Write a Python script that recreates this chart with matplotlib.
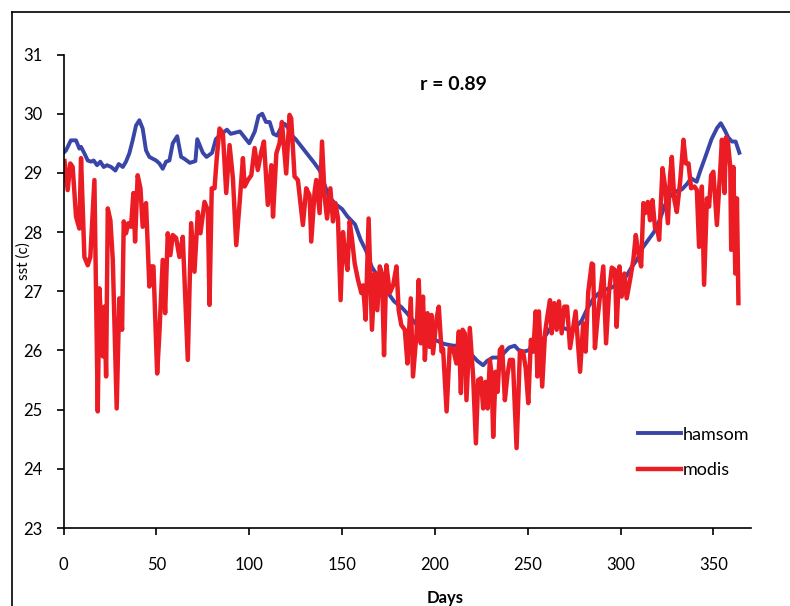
import matplotlib.pyplot as plt
from matplotlib.lines import Line2D

# ============================
# DATOS
# ============================

hamsom_day = [0, 1.3, 3.9, 6.7, 8.5, 9.4, 11.2, 13.0, 14.8, 16.2, 18.0, 19.8, 21.6, 23.4, 25.6, 27.9, 29.7, 31.9, 33.6, 35.4,
              37.2, 39.0, 40.8, 42.6, 44.4, 46.2, 48.0, 49.8, 51.6, 53.4, 55.2, 57.0, 58.8, 61.2, 63.3, 65, 68, 71, 72, 75,
              77, 80, 82, 85, 88, 90, 95, 100, 103, 105, 107, 109, 111, 113, 115, 117, 119, 121, 123, 125,
              130, 135, 138, 140, 143, 147, 150, 153, 157, 160, 163, 166, 170, 173, 175, 178, 182, 185, 190, 195,
              200, 205, 210, 215, 218, 220, 223, 226, 228, 231, 234, 237, 240, 243, 245, 248, 251, 253, 256, 258,
              260, 262, 265, 268, 270, 273, 276, 279, 282, 285, 288, 291, 295, 300, 303, 306, 309, 312, 315, 318,
              321, 324, 327, 330, 333, 336, 338, 341, 343, 346, 349, 352, 354, 356, 358, 360, 362, 364]
hamsom_sst = [29.34, 29.38, 29.55, 29.55, 29.41, 29.44, 29.33, 29.21, 29.19, 29.21, 29.13, 29.19, 29.10, 29.13, 29.10, 29.04, 29.15, 29.10, 29.19, 29.33,
              29.55, 29.80, 29.89, 29.75, 29.38, 29.27, 29.24, 29.21, 29.16, 29.07, 29.19, 29.21, 29.50, 29.62, 29.27, 29.24, 29.17, 29.20, 29.57, 29.34,
              29.27, 29.34, 29.57, 29.66, 29.73, 29.66, 29.70, 29.50, 29.70, 29.96, 30.00, 29.86, 29.86, 29.66, 29.63, 29.76, 29.83, 29.76, 29.63, 29.57,
              29.37, 29.17, 29.04, 28.85, 28.59, 28.46, 28.39, 28.26, 28.13, 27.87, 27.68, 27.41, 27.22, 27.02, 26.96, 26.83, 26.73, 26.63, 26.44, 26.27,
              26.18, 26.11, 26.08, 26.08, 26.01, 25.92, 25.82, 25.75, 25.82, 25.88, 25.88, 25.95, 26.05, 26.08, 26.01, 25.98, 26.01, 26.18, 26.18, 26.18,
              26.27, 26.37, 26.44, 26.40, 26.37, 26.34, 26.40, 26.50, 26.70, 26.86, 26.96, 27.02, 27.06, 27.15, 27.25, 27.41, 27.54, 27.74, 27.87, 28.00,
              28.20, 28.46, 28.62, 28.69, 28.72, 28.82, 28.91, 28.85, 29.04, 29.30, 29.57, 29.76, 29.84, 29.73, 29.60, 29.53, 29.53, 29.34]

modis_day = [0.5, 2.2, 3.6, 4.9, 6.7, 8.5, 9.4, 11.2, 13.0, 14.4, 16.6, 18.4, 19.3, 21.1, 22.0, 22.9, 23.8, 25.2, 26.5, 28.6,
             30.0, 31.5, 32.4, 33.6, 34.9, 36.3, 37.6, 38.5, 39.9, 41.4, 42.6, 44.4, 46.2, 47.1, 48.4, 50.4, 51.6, 53.4, 54.7, 56.1,
             57.5, 58.8, 60.6, 62.4, 64.2, 66.9, 68.7, 70.5, 72.3, 73.7, 75.9, 77.7, 78.6, 79.8, 81.3, 82.5, 84.0, 85.8, 87.6, 89.4,
             91.2, 93.0, 94.8, 96.6, 97.5, 99.3, 101.1, 102.9, 104.6, 106.5, 107.9, 110.0, 111.9, 112.8, 114.6, 116.3, 117.6, 119.9, 121.7, 122.6,
             124.4, 126.2, 128.9, 130.7, 132.5, 133.4, 135.2, 136.1, 137.9, 139.2, 140.6, 141.9, 143.7, 145.1, 146.4, 147.8, 149.2, 150.5, 151.8, 152.9,
             154.1, 155.4, 156.8, 158.6, 160.4, 161.3, 162.7, 164.3, 166.1, 167.6, 169.0, 170.3, 171.5, 172.6, 173.9, 175.7, 177.5, 179.3, 180.5, 181.9,
             183.8, 185.2, 187.0, 188.2, 190.1, 191.3, 192.4, 193.6, 194.6, 196.0, 197.2, 198.2, 199.0, 200.9, 202.1, 203.6, 204.4, 206.3, 208.0, 209.8,
             211.6, 212.9, 214.0, 214.9, 216.1, 217.0, 218.8, 220.6, 222.1, 223.3, 224.8, 226.0, 227.3, 228.4, 229.6, 230.5, 231.4, 232.7, 233.8, 235.0,
             236.2, 237.7, 239.1, 240.4, 242.0, 244.0, 245.8, 247.5, 248.9, 250.3, 251.7, 253.0, 254.3, 255.2, 256.0, 257.8, 259.3, 260.7, 262.0, 262.9,
             264.3, 265.6, 266.8, 268.3, 269.7, 271.2, 272.8, 274.0, 275.8, 278.2, 279.9, 281.2, 282.6, 284.5, 285.2, 286.2, 287.7, 288.9, 290.7, 292.2,
             293.8, 295.3, 297.0, 297.9, 299.4, 300.6, 302.1, 303.3, 305.1, 306.9, 308.2, 309.6, 311.1, 312.3, 313.2, 314.7, 315.9, 317.2, 318.6, 319.5,
             320.8, 322.6, 324.0, 325.5, 326.7, 327.6, 329.0, 330.3, 332.1, 333.9, 335.2, 336.6, 338.0, 339.8, 341.1, 342.3, 343.8, 345.0, 346.5, 347.7,
             348.8, 350.0, 351.9, 353.7, 354.6, 356.0, 356.8, 357.9, 359.1, 359.6, 360.8, 361.8, 362.7, 363.5]
modis_sst = [29.20, 28.71, 29.16, 29.10, 28.26, 28.06, 29.25, 27.58, 27.44, 27.58, 28.88, 24.97, 27.05, 25.90, 26.74, 25.56, 28.40, 28.20, 27.53, 25.02,
             26.88, 26.35, 28.18, 27.98, 28.15, 28.09, 28.66, 27.84, 28.96, 28.74, 28.09, 28.49, 27.08, 27.42, 27.42, 25.61, 26.29, 27.53, 26.63, 27.98,
             27.61, 27.95, 27.90, 27.58, 27.92, 25.84, 28.15, 27.33, 28.34, 27.98, 28.51, 28.37, 26.77, 28.74, 28.74, 29.25, 29.75, 29.67, 28.66, 29.47,
             28.91, 27.78, 28.49, 29.25, 28.77, 28.88, 28.96, 29.42, 29.05, 29.36, 29.53, 28.46, 29.13, 28.26, 29.33, 29.50, 29.86, 28.99, 29.98, 29.92,
             28.94, 28.88, 28.12, 28.74, 28.62, 27.84, 28.68, 28.88, 28.32, 29.53, 28.60, 28.23, 28.74, 28.18, 28.49, 28.23, 26.85, 28.00, 27.58, 27.36,
             28.18, 27.87, 27.47, 27.19, 26.97, 27.10, 26.52, 28.23, 26.35, 27.30, 26.68, 27.42, 27.30, 25.92, 27.44, 26.97, 27.10, 27.42, 26.68, 26.43,
             26.35, 25.78, 26.88, 25.56, 26.29, 27.19, 26.12, 26.91, 25.84, 26.63, 26.06, 26.60, 25.95, 26.54, 26.74, 25.98, 26.03, 24.97, 26.05, 26.03,
             25.78, 26.32, 25.28, 26.35, 26.29, 25.16, 26.38, 25.56, 24.43, 25.50, 25.53, 25.02, 25.47, 25.02, 25.84, 25.61, 24.54, 25.64, 25.30, 26.01,
             26.06, 25.16, 25.59, 25.84, 25.84, 24.35, 25.98, 25.98, 25.70, 25.11, 26.18, 25.98, 26.66, 25.56, 26.66, 25.39, 26.29, 26.60, 26.85, 26.29,
             26.80, 26.35, 26.83, 26.29, 26.74, 26.74, 26.04, 26.29, 26.66, 25.64, 26.46, 25.98, 26.99, 27.47, 27.45, 26.04, 26.57, 26.91, 27.42, 26.12,
             26.99, 27.40, 27.36, 26.40, 27.42, 26.91, 27.30, 26.88, 27.19, 27.53, 27.95, 27.64, 27.42, 28.49, 28.32, 28.51, 28.20, 28.54, 28.06, 28.09,
             27.87, 29.08, 28.77, 28.15, 28.96, 29.27, 28.54, 28.34, 28.85, 29.56, 29.16, 29.16, 28.74, 28.77, 28.71, 27.75, 28.77, 27.11, 28.57, 28.43,
             28.96, 29.02, 28.12, 29.05, 29.56, 28.66, 29.60, 29.50, 29.10, 27.70, 29.10, 27.30, 28.57, 26.80]

x_ticks = [0, 50, 100, 150, 200, 250, 300, 350]
y_ticks = [23, 24, 25, 26, 27, 28, 29, 30, 31]

plt.rcParams['font.family'] = ['Lato', 'DejaVu Sans']

fig = plt.figure(figsize=(7.9, 6.06), dpi=100)
ax = fig.add_axes([0.0805, 0.1287, 0.8695, 0.7813])

ax.plot(hamsom_day, hamsom_sst, color='#3a45a8', lw=2.8, label='hamsom')
ax.plot(modis_day, modis_sst, color='#ec1c24', lw=3.2, label='modis')

ax.set_xlim(0, 370)
ax.set_ylim(23, 31)
ax.set_xticks(x_ticks)
ax.set_yticks(y_ticks)
ax.tick_params(direction='out', length=5, width=1.2, labelsize=12)
ax.tick_params(axis='x', pad=16)
ax.tick_params(axis='y', pad=10)

for s in ['top', 'right']:
    ax.spines[s].set_visible(False)
for s in ['left', 'bottom']:
    ax.spines[s].set_linewidth(1.2)

ax.text(210, 30.49, 'r = 0.89', fontsize=14, fontweight='bold', ha='center', va='center')

# etiqueta del eje y, entre el "28" y el "27"
fig.text(24 / 790, 1 - 261 / 606, 'sst (c)', rotation=90, fontsize=11, ha='center', va='center')
fig.text(445 / 790, 1 - 598 / 606, 'Days', fontsize=12, fontweight='bold', ha='center', va='center')

ax.legend(loc='center left', bbox_to_anchor=(638 / 790, 1 - 452.5 / 606), bbox_transform=fig.transFigure,
          frameon=False, fontsize=13, handlelength=2.4, handletextpad=0.1, labelspacing=1.1,
          borderpad=0, borderaxespad=0)

# marco de la figura
fig.add_artist(Line2D([12 / 790, 12 / 790], [0, 1 - 12 / 606], color='black', lw=1.2, transform=fig.transFigure))
fig.add_artist(Line2D([12 / 790, 1], [1 - 12 / 606, 1 - 12 / 606], color='black', lw=1.2, transform=fig.transFigure))

plt.savefig('out.png', dpi=100)
